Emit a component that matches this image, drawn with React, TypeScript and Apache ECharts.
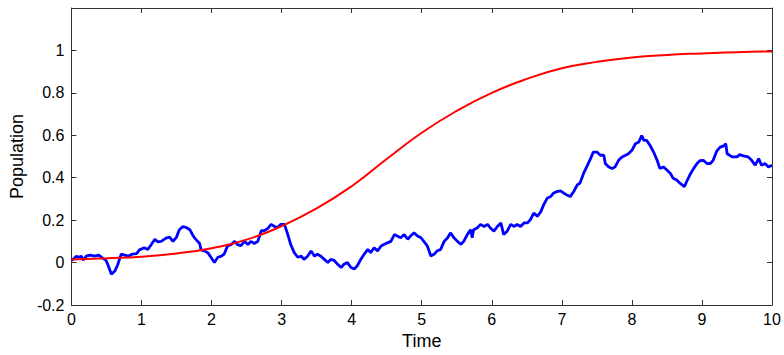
import React, { useEffect, useRef } from "react";
import * as echarts from "echarts";

const FONT = "'Liberation Sans', Arial, Helvetica, sans-serif";

const xMin = 0;
const xMax = 10;
const yMin = -0.2;
const yMax = 1.2;

const redT = [0, 0.5, 1, 1.5, 2, 2.5, 3, 3.5, 4, 4.5, 5, 5.5, 6, 6.5, 7, 7.5, 8, 8.5, 9, 9.5, 10];
const redV = [0.014, 0.02, 0.028, 0.043, 0.068, 0.108, 0.172, 0.255, 0.36, 0.488, 0.612, 0.715, 0.8, 0.866, 0.916, 0.946, 0.967, 0.979, 0.986, 0.992, 0.995];

const blueT = [
  0.0, 0.04, 0.07, 0.1, 0.14, 0.17, 0.21, 0.27, 0.33, 0.39, 0.45, 0.49, 0.52, 0.57, 0.62, 0.66, 0.71, 0.76, 0.81, 0.87,
  0.93, 0.97, 1.04, 1.09, 1.14, 1.19, 1.23, 1.28, 1.35, 1.4, 1.45, 1.5, 1.54, 1.59, 1.64, 1.69, 1.73, 1.76, 1.8, 1.83,
  1.85, 1.9, 1.95, 1.99, 2.04, 2.09, 2.14, 2.18, 2.23, 2.28, 2.33, 2.37, 2.42, 2.47, 2.52, 2.56, 2.61, 2.66, 2.71, 2.75,
  2.8, 2.85, 2.9, 2.94, 2.99, 3.04, 3.09, 3.13, 3.18, 3.23, 3.28, 3.32, 3.37, 3.42, 3.47, 3.51, 3.56, 3.61, 3.66, 3.7,
  3.75, 3.8, 3.85, 3.89, 3.94, 3.99, 4.04, 4.08, 4.13, 4.18, 4.23, 4.27, 4.32, 4.37, 4.42, 4.46, 4.51, 4.56, 4.61, 4.65,
  4.7, 4.75, 4.8, 4.84, 4.89, 4.94, 4.99, 5.03, 5.08, 5.13, 5.18, 5.22, 5.27, 5.32, 5.37, 5.41, 5.46, 5.51, 5.56, 5.6,
  5.65, 5.7, 5.72, 5.74, 5.79, 5.84, 5.89, 5.94, 5.98, 6.03, 6.08, 6.13, 6.17, 6.22, 6.27, 6.32, 6.36, 6.41, 6.46, 6.51,
  6.55, 6.6, 6.65, 6.7, 6.74, 6.79, 6.84, 6.88, 6.93, 6.98, 7.03, 7.07, 7.12, 7.17, 7.22, 7.26, 7.31, 7.36, 7.41, 7.45,
  7.5, 7.55, 7.6, 7.62, 7.67, 7.72, 7.76, 7.81, 7.86, 7.91, 7.95, 8.0, 8.05, 8.1, 8.14, 8.17, 8.21, 8.26, 8.31, 8.36,
  8.4, 8.45, 8.5, 8.55, 8.59, 8.64, 8.69, 8.75, 8.78, 8.83, 8.88, 8.93, 8.97, 9.02, 9.07, 9.12, 9.16, 9.21, 9.26, 9.31,
  9.34, 9.36, 9.43, 9.5, 9.54, 9.59, 9.66, 9.71, 9.76, 9.81, 9.85, 9.9, 9.95, 10.0,
];
const blueV = [
  0.01, 0.02, 0.03, 0.025, 0.03, 0.012, 0.03, 0.035, 0.03, 0.035, 0.02, 0.012, -0.01, -0.055, -0.04, -0.01, 0.04, 0.035, 0.03, 0.04,
  0.042, 0.06, 0.07, 0.062, 0.085, 0.11, 0.098, 0.1, 0.115, 0.12, 0.1, 0.12, 0.155, 0.17, 0.165, 0.155, 0.13, 0.115, 0.1, 0.09,
  0.06, 0.055, 0.045, 0.025, 0.0, 0.025, 0.03, 0.04, 0.08, 0.085, 0.1, 0.085, 0.08, 0.1, 0.085, 0.1, 0.09, 0.1, 0.15, 0.15,
  0.16, 0.18, 0.17, 0.165, 0.18, 0.18, 0.13, 0.085, 0.047, 0.025, 0.03, 0.015, 0.03, 0.055, 0.03, 0.04, 0.03, 0.015, 0.0, 0.015,
  0.01, -0.008, -0.023, -0.008, 0.0, -0.023, -0.03, -0.015, 0.015, 0.04, 0.062, 0.047, 0.07, 0.055, 0.078, 0.085, 0.093, 0.1, 0.132, 0.125,
  0.117, 0.132, 0.11, 0.125, 0.14, 0.125, 0.117, 0.1, 0.078, 0.031, 0.04, 0.055, 0.062, 0.1, 0.117, 0.14, 0.117, 0.1, 0.086, 0.1,
  0.132, 0.155, 0.117, 0.155, 0.163, 0.18, 0.17, 0.18, 0.163, 0.148, 0.17, 0.187, 0.132, 0.148, 0.18, 0.17, 0.18, 0.17, 0.187, 0.187,
  0.202, 0.233, 0.218, 0.24, 0.272, 0.303, 0.311, 0.327, 0.335, 0.338, 0.327, 0.319, 0.311, 0.335, 0.366, 0.375, 0.42, 0.455, 0.49, 0.521,
  0.521, 0.506, 0.506, 0.467, 0.451, 0.443, 0.451, 0.482, 0.498, 0.506, 0.513, 0.529, 0.56, 0.568, 0.599, 0.576, 0.576, 0.552, 0.521, 0.482,
  0.443, 0.451, 0.436, 0.42, 0.397, 0.389, 0.373, 0.358, 0.381, 0.415, 0.443, 0.467, 0.48, 0.482, 0.467, 0.467, 0.482, 0.525, 0.544, 0.55,
  0.56, 0.513, 0.498, 0.498, 0.509, 0.503, 0.498, 0.482, 0.459, 0.49, 0.459, 0.467, 0.451, 0.459,
];

const axisColor = "#333333";

function makeAxisCommon() {
  return {
    type: "value" as const,
    axisLine: { show: true, onZero: false, lineStyle: { color: axisColor, width: 1 } },
    axisTick: { show: true, inside: true, length: 5, lineStyle: { color: axisColor, width: 1 } },
    splitLine: { show: false },
  };
}

export default function App() {
  const ref = useRef<HTMLDivElement>(null);

  useEffect(() => {
    if (!ref.current) return;
    const chart = echarts.init(ref.current, undefined, { renderer: "svg" });
    const blueData = blueT.map((t, i) => [t, blueV[i]]);
    const redData = redT.map((t, i) => [t, redV[i]]);
    chart.setOption({
      animation: false,
      backgroundColor: "#ffffff",
      grid: { left: 70, right: 12, top: 8, bottom: 46, show: false },
      xAxis: [
        {
          ...makeAxisCommon(),
          min: xMin,
          max: xMax,
          interval: 1,
          position: "bottom",
          name: "Time",
          nameLocation: "middle",
          nameGap: 27,
          nameTextStyle: { fontSize: 18, color: "#000", fontFamily: FONT },
          axisLabel: { fontSize: 16, color: "#000", fontFamily: FONT, margin: 6 },
        },
        {
          ...makeAxisCommon(),
          min: xMin,
          max: xMax,
          interval: 1,
          position: "top",
          axisLabel: { show: false },
        },
      ],
      yAxis: [
        {
          ...makeAxisCommon(),
          min: yMin,
          max: yMax,
          interval: 0.2,
          position: "left",
          name: "Population",
          nameLocation: "middle",
          nameGap: 44,
          nameRotate: 90,
          nameTextStyle: { fontSize: 18, color: "#000", fontFamily: FONT },
          axisLabel: {
            fontSize: 16,
            color: "#000",
            fontFamily: FONT,
            margin: 7,
            formatter: (v: number) => (v > 1.1 ? "" : String(+v.toFixed(1))),
          },
        },
        {
          ...makeAxisCommon(),
          min: yMin,
          max: yMax,
          interval: 0.2,
          position: "right",
          axisLabel: { show: false },
        },
      ],
      series: [
        {
          type: "line",
          xAxisIndex: 0,
          yAxisIndex: 0,
          data: blueData,
          showSymbol: false,
          lineStyle: { color: "#0000ff", width: 2.8 },
          z: 2,
        },
        {
          type: "line",
          xAxisIndex: 0,
          yAxisIndex: 0,
          data: redData,
          smooth: true,
          showSymbol: false,
          lineStyle: { color: "#ff0000", width: 2 },
          z: 3,
        },
      ],
    });
    return () => chart.dispose();
  }, []);

  return (
    <div
      ref={ref}
      style={{ position: "fixed", left: 0, top: 0, width: 784, height: 355, background: "#fff" }}
    />
  );
}
